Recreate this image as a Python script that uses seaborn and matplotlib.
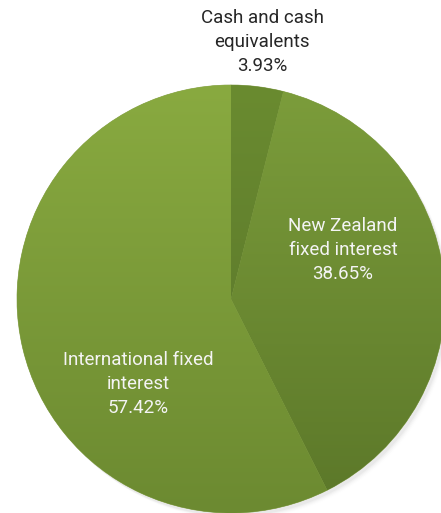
import matplotlib
matplotlib.use("Agg")
import matplotlib.pyplot as plt
import numpy as np
import seaborn as sns
from matplotlib.colors import LinearSegmentedColormap

sns.set_theme(style="white")
plt.rcParams["font.family"] = ["Roboto", "DejaVu Sans"]

categories = ["Cash and cash\nequivalents", "New Zealand\nfixed interest", "International fixed\ninterest"]
shares = [3.93, 38.65, 57.42]
# top / bottom colour of each slice's vertical gradient
top_colors = ["#6a8b30", "#7c9d3b", "#89aa40"]
bottom_colors = ["#57722a", "#5b7729", "#6c8a31"]
label_colors = ["#262626", "#f4f4f4", "#f4f4f4"]
# label anchor (pie units, centre = 0,0, radius = 1)
label_pos = [(0.145, 1.20), (0.523, 0.229), (-0.435, -0.397)]

W, H, DPI = 441, 513, 100
cx, cy, r = 231, 299, 214

fig = plt.figure(figsize=(W / DPI, H / DPI), dpi=DPI)
ax = fig.add_axes([0, 0, 1, 1])

wedges, _ = ax.pie(
    shares,
    colors=top_colors,
    startangle=90,
    counterclock=False,
    radius=1,
    wedgeprops={"linewidth": 0.5, "edgecolor": "#8fa65a"},
)

# soft shadow under the pie
for k, a in enumerate(np.linspace(0.06, 0.01, 5)):
    sh = plt.Circle((0.012 + k * 0.004, -0.015 - k * 0.004), 1.0, color="black",
                    alpha=a * 0.5, zorder=0, lw=0)
    ax.add_patch(sh)

# vertical gradient fill clipped to each wedge
grad = np.linspace(1, 0, 256).reshape(-1, 1)
for w, c0, c1 in zip(wedges, top_colors, bottom_colors):
    w.set_zorder(1)
    cmap = LinearSegmentedColormap.from_list("g", [c1, c0])
    im = ax.imshow(grad, cmap=cmap, extent=(-1, 1, -1, 1), aspect="auto",
                   origin="upper", zorder=1.1, interpolation="bilinear")
    im.set_clip_path(w)

for name, val, col, (x, y) in zip(categories, shares, label_colors, label_pos):
    ax.text(x, y, f"{name}\n{val:.2f}%", ha="center", va="center", color=col,
            fontsize=13.5, linespacing=1.42, zorder=5)

ax.set_xlim(-cx / r, (W - cx) / r)
ax.set_ylim(-(H - cy) / r, cy / r)
ax.set_aspect("equal")
ax.axis("off")

fig.savefig("out.png", dpi=DPI)
